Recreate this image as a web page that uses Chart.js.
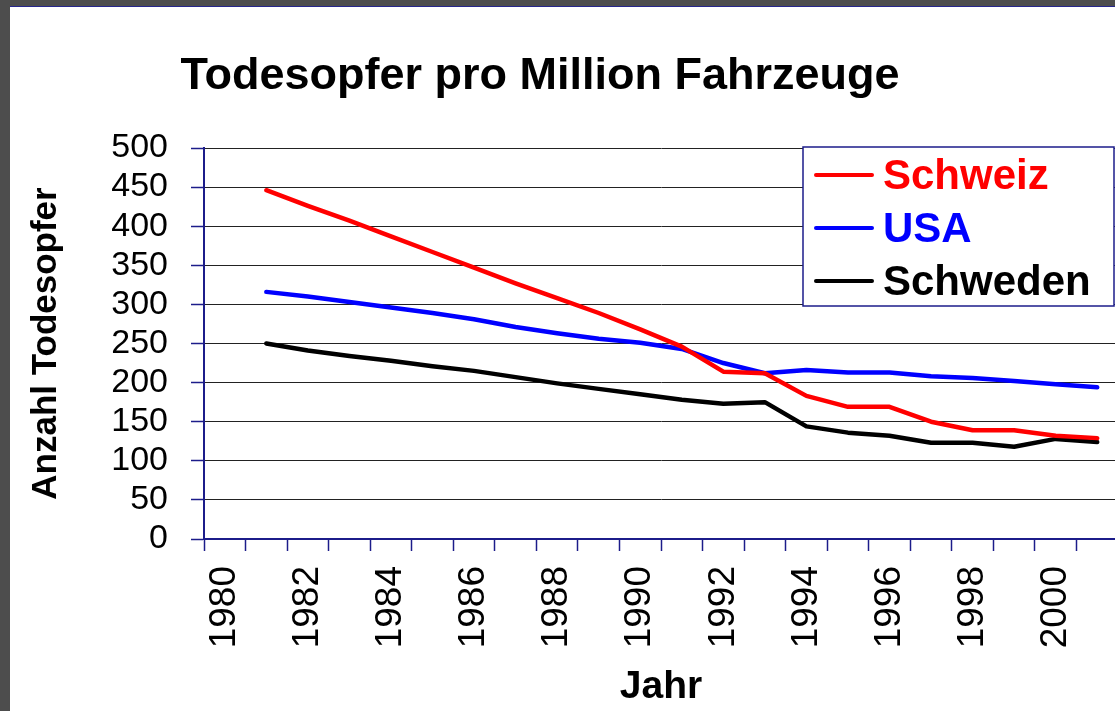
<!DOCTYPE html>
<html>
<head>
<meta charset="utf-8">
<title>Todesopfer pro Million Fahrzeuge</title>
<script src="https://cdn.jsdelivr.net/npm/chart.js@4.4.1/dist/chart.umd.min.js"></script>
<style>
    body { margin: 0; background: #4d4d4d; overflow: hidden; }
    #frame { position: absolute; left: 10px; top: 6px; width: 1120px; height: 705px; background: #fff; border-top: 1px solid #26268c; }
    canvas { display: block; }
</style>
</head>
<body>
<div id="frame"><canvas id="myChart" width="1120" height="704"></canvas></div>
<script>
// Jahre (x-Achse), 1980 ohne Wert
const years = ['1980', '1981', '1982', '1983', '1984', '1985', '1986', '1987', '1988', '1989', '1990',
               '1991', '1992', '1993', '1994', '1995', '1996', '1997', '1998', '1999', '2000', '2001'];

// Todesopfer pro Million Fahrzeuge
const schweiz  = [null, 446, 426, 407, 387, 367, 347, 327, 308, 289, 268, 246, 214, 212, 183, 169, 169, 150, 139, 139, 132, 129];
const usa      = [null, 316, 310, 303, 296, 289, 281, 271, 263, 256, 251, 243, 225, 212, 216, 213, 213, 208, 206, 202, 198, 194];
const schweden = [null, 250, 241, 234, 228, 221, 215, 207, 199, 192, 185, 178, 173, 175, 144, 136, 132, 123, 123, 118, 128, 124];

const navy = '#1c1c8a';

Chart.defaults.font.family = '"Liberation Sans", Arial, sans-serif';
Chart.defaults.color = '#000';

// move the title a bit to the left, like in the original slide
const titleShift =
{
    id: 'titleShift',
    afterLayout: function(chart)
    {
        let t = chart.titleBlock;
        t.left = 0;
        t.right = 1060;
    }
};

// legend box inside the plot area, top right
const legendBox =
{
    id: 'legendBox',
    afterDraw: function(chart)
    {
        let ctx = chart.ctx;
        let area = chart.chartArea;
        let left = area.right - 315;
        let top = area.top - 1;
        let width = 311;
        let height = 159;

        ctx.save();
        ctx.fillStyle = '#fff';
        ctx.fillRect(left, top, width, height);
        ctx.strokeStyle = navy;
        ctx.lineWidth = 1.5;
        ctx.strokeRect(left, top, width, height);

        ctx.font = 'bold 42px "Liberation Sans", Arial, sans-serif';
        ctx.textBaseline = 'middle';
        ctx.textAlign = 'left';
        ctx.lineCap = 'round';

        chart.data.datasets.forEach(function(ds, i)
        {
            let y = top + 28 + i * 53;
            ctx.strokeStyle = ds.borderColor;
            ctx.lineWidth = 4;
            ctx.beginPath();
            ctx.moveTo(left + 13, y);
            ctx.lineTo(left + 69, y);
            ctx.stroke();
            ctx.fillStyle = ds.borderColor;
            ctx.fillText(ds.label, left + 80, y + 2.5);
        });
        ctx.restore();
    }
};

//----------------------------------Chart------------------------------------------------
let myChart = document.getElementById('myChart').getContext('2d');

let chart_1 = new Chart(myChart,
{
    type: 'line',
    data:
    {
        labels: years,
        datasets:
        [
            {
                label: 'Schweiz',
                borderColor: '#ff0000',
                backgroundColor: '#ff0000',
                borderWidth: 4.5,
                pointRadius: 0,
                borderCapStyle: 'round',
                borderJoinStyle: 'round',
                data: schweiz
            },
            {
                label: 'USA',
                borderColor: '#0000ff',
                backgroundColor: '#0000ff',
                borderWidth: 4.5,
                pointRadius: 0,
                borderCapStyle: 'round',
                borderJoinStyle: 'round',
                data: usa
            },
            {
                label: 'Schweden',
                borderColor: '#000000',
                backgroundColor: '#000000',
                borderWidth: 4.5,
                pointRadius: 0,
                borderCapStyle: 'round',
                borderJoinStyle: 'round',
                data: schweden
            }
        ]
    },
    options:
    {
        responsive: false,
        animation: false,
        layout: { padding: { left: 0, right: 12, top: 0, bottom: 0 } },
        plugins:
        {
            legend: { display: false },
            tooltip: { enabled: false },
            title:
            {
                display: true,
                text: 'Todesopfer pro Million Fahrzeuge',
                color: '#000',
                font: { size: 45, weight: 'bold' },
                padding: { top: 43, bottom: 44 }
            }
        },
        scales:
        {
            x:
            {
                offset: true,
                grid: { offset: true, drawOnChartArea: false, drawTicks: true, tickLength: 12, tickColor: navy, tickWidth: 1.5 },
                border: { color: navy, width: 2 },
                ticks:
                {
                    autoSkip: false,
                    maxRotation: 90,
                    minRotation: 90,
                    padding: 15,
                    font: { size: 37 },
                    callback: function(value, index) { return index % 2 === 0 ? years[index] : ''; }
                },
                title: { display: true, text: 'Jahr', font: { size: 39, weight: 'bold' }, padding: { top: 0, bottom: 0 } },
                afterFit: function(scale)
                {
                    scale.height = 172;
                    scale.paddingLeft = 0;
                    scale.paddingRight = 0;
                }
            },
            y:
            {
                min: 0,
                max: 500,
                ticks: { autoSkip: false, stepSize: 50, padding: 23, font: { size: 34, lineHeight: 1 } },
                grid: { color: '#222', lineWidth: 1, tickLength: 13, tickColor: navy, tickWidth: 1.5 },
                border: { color: navy, width: 2 },
                title: { display: true, text: 'Anzahl Todesopfer', font: { size: 35, weight: 'bold' }, padding: { top: 15, bottom: 0 } },
                afterFit: function(scale)
                {
                    scale.width = 194;
                    scale.paddingTop = 0;
                    scale.paddingBottom = 0;
                }
            }
        }
    },
    plugins: [titleShift, legendBox]
});
//----------------------------------Chart------------------------------------------------
</script>
</body>
</html>
